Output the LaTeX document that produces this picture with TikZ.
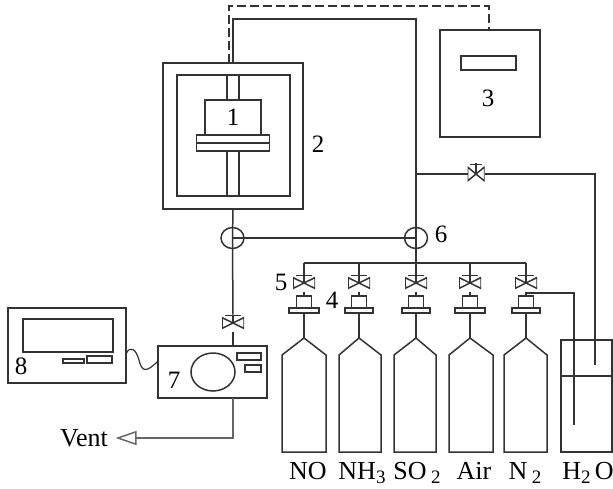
\documentclass[tikz,border=0pt]{standalone}
\usepackage{amsmath}
\usepackage{xcolor}
\usepackage{fontspec}
\setmainfont{Liberation Serif}
\usepackage{tikz}
\usetikzlibrary{arrows.meta,calc,positioning,shapes}

\begin{document}
\begin{tikzpicture}[x=1pt,y=-1pt,line width=1.5pt,color=black!80]

    % frame of the whole figure
    \useasboundingbox (0,0) rectangle (613,488);

    \edef\sizeflange{5pt}
    \def\ppb{path picture bounding box}
    \def\subnum#1{\raisebox{-4pt}{\fontsize{19}{19}\selectfont #1}}
    \tikzstyle{part}=[draw,rectangle,inner sep=0,outer sep=0]
    \tikzstyle{tag}=[inner sep=0,text=black,font=\fontsize{25}{27}\selectfont]
    \tikzstyle{gas}=[inner sep=0,text=black,font=\fontsize{26}{28}\selectfont]
    \tikzstyle{junction}=[draw,ellipse,inner sep=0,outer sep=0,minimum width=23pt,minimum height=21pt]
    \tikzstyle{tvalve}=[rectangle,inner sep=0,outer sep=0,minimum width=17pt,minimum height=22pt,
        path picture={
            \draw ($(\ppb.north west)!.18!(\ppb.south west)$) -- ($(\ppb.south east)!.18!(\ppb.north east)$)
                -- ($(\ppb.north east)!.18!(\ppb.south east)$) -- ($(\ppb.south west)!.18!(\ppb.north west)$) -- cycle;
            \draw (\ppb.center) -- (\ppb.north);
            \draw ($(\ppb.north west)!.15!(\ppb.north east)!.06!(\ppb.south west)$) -- ($(\ppb.north east)!.15!(\ppb.north west)!.06!(\ppb.south east)$);
        }]

    % one gas line: name, x, bottle left, bottle right, flange width, text, text x
    \def\gasline#1#2#3#4#5#6#7{
        \coordinate (m#1) at (#2,263);
        \node [tvalve,rotate=90] (v#1) at (#2,283) {};
        \node [part,minimum width=15pt,minimum height=12pt] (r#1) at (#2,302) {};
        \node [part,minimum width=#5,minimum height=\sizeflange,below=0pt of r#1] (f#1) {};
        \coordinate (n#1) at (#2,338);
        \draw (m#1) -- (v#1);
        \draw (v#1) -- (r#1);
        \draw (f#1) -- (n#1);
        \draw (n#1) -- (#4,355) -- (#4,452) -- (#3,452) -- (#3,355) -- cycle;
        \node [gas,anchor=base] (t#1) at (#7,479) {#6};
    }

    % reactor in the furnace
    \node [part,minimum width=140pt,minimum height=146pt] (furnace) at (233,136) {};
    \node [part,minimum width=113pt,minimum height=121pt] (chamber) at (233.5,135.5) {};
    \node [part,tag,minimum width=56pt,minimum height=35pt] (reactor) at (233,117.5) {1};
    \node [part,minimum width=73pt,minimum height=16pt,below=0pt of reactor] (plate) {};
    \draw (plate.west) -- (plate.east);
    \node [part,minimum width=12pt,minimum height=25pt,above=0pt of reactor] (tubeup) {};
    \node [part,minimum width=12pt,minimum height=45pt,below=0pt of plate] (tubedown) {};
    \node [tag] (ltwo) at (318,144) {2};

    % controller
    \node [part,minimum width=100pt,minimum height=107pt] (controller) at (490,83.5) {};
    \node [part,minimum width=55pt,minimum height=14pt] (display) at (488.5,63) {};
    \node [tag] (lthree) at (488,98) {3};

    % joints and lines
    \node [junction] (jointl) at (232.5,238) {};
    \node [junction] (jointr) at (416,238) {};
    \node [tag] (lsix) at (441,234) {6};
    \coordinate (corner) at (416,19);
    \coordinate (teew) at (416,174);
    \coordinate (dasha) at (229,6);
    \coordinate (dashb) at (489,6);

    \draw (furnace.north) |- (corner) -- (jointr.center);
    \draw [dashed,dash pattern=on 9pt off 4pt,line width=1.6pt] (furnace.north -| dasha) -- (dasha) -- (dashb) -- (dashb |- controller.north);
    \draw (furnace.south) -- (jointl.center);
    \draw (jointl.center) -- (jointr.center);

    % gas cylinders
    \gasline{no}{304}{282}{326}{30pt}{NO}{308}
    \gasline{nh}{359}{339}{381}{28pt}{NH\subnum{3}}{362}
    \gasline{so}{416}{394}{436}{28pt}{SO\,\subnum{2}}{417}
    \gasline{air}{470}{449}{493}{30pt}{Air}{474}
    \gasline{nit}{526}{504}{547}{28pt}{N\,\subnum{2}}{525}
    \draw (mno) -- (mnit);
    \draw (jointr.center) -- (mso);
    \node [tag] (lfive) at (281,282) {5};
    \node [tag] (lfour) at (332,300) {4};

    % water saturator
    \node [part,minimum width=51pt,minimum height=112pt] (pot) at (586.5,396) {};
    \node [gas,anchor=base] (twater) at (588,479) {H\subnum{2}\,O};
    \node [tvalve] (vwater) at (476,174) {};
    \coordinate (level) at (586,376);
    \coordinate (dipa) at (595,365);
    \coordinate (dipb) at (574,425);
    \coordinate (teen) at (526,293);
    \draw (teew) -- (vwater);
    \draw (vwater) -| (dipa);
    \draw (teen) -| (dipb);
    \draw (level -| pot.west) -- (level -| pot.east);

    % analyser and recorder
    \node [tvalve,rotate=90] (vmeter) at (233,323) {};
    \node [part,minimum width=109pt,minimum height=52pt] (meter) at (212.5,372) {};
    \node [tag] (lseven) at (174,380) {7};
    \node [part,ellipse,minimum width=44pt,minimum height=38pt] (dial) at (213,372) {};
    \node [part,minimum width=24pt,minimum height=7pt] (keya) at (249,356.5) {};
    \node [part,minimum width=16pt,minimum height=7pt] (keyb) at (253,368.5) {};
    \node [part,minimum width=118pt,minimum height=75pt] (recorder) at (67,345.5) {};
    \node [part,minimum width=90pt,minimum height=33pt] (screen) at (68,335.5) {};
    \node [part,minimum width=21pt,minimum height=4pt] (keyc) at (73.5,361) {};
    \node [part,minimum width=25pt,minimum height=7pt] (keyd) at (99.5,359.5) {};
    \node [tag] (leight) at (21,366) {8};
    \node [gas,inner xsep=7pt] (vent) at (84,438) {Vent};
    \coordinate (wirea) at (126,354);
    \coordinate (wireb) at (158,361);

    \draw (jointl.center) -- (vmeter);
    \draw (vmeter) -- (vmeter |- meter.north);
    \draw [-{Triangle[open,length=21pt,width=14pt]},black!60] (vmeter |- meter.south) |- (vent);
    \draw [line width=1.2pt] (wirea) .. controls (130,345) and (136,349) .. (139,360) .. controls (142,373) and (147,372) .. (wireb);

\end{tikzpicture}
\end{document}
